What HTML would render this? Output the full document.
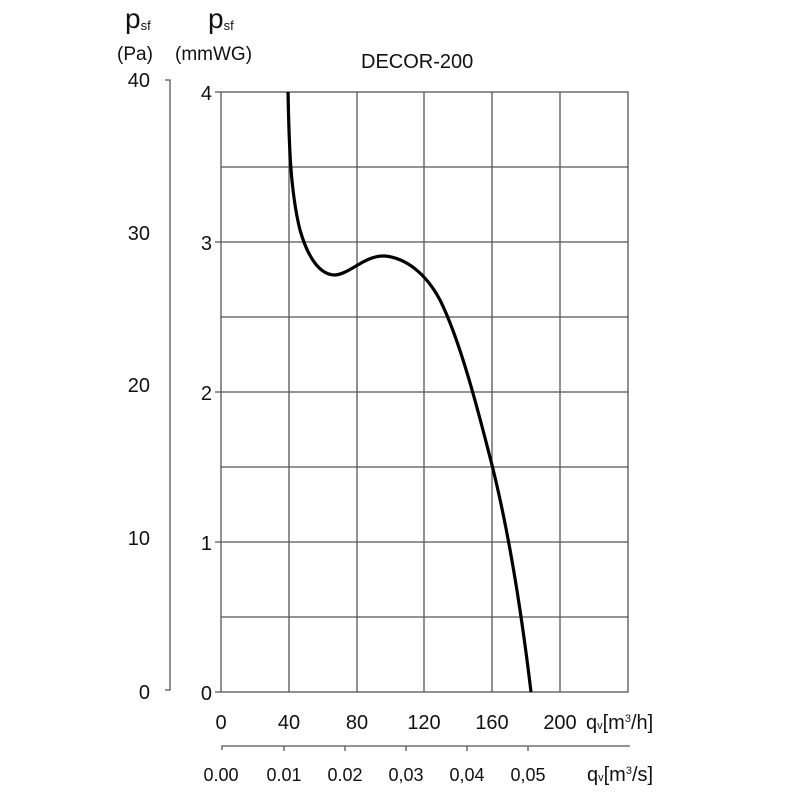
<!DOCTYPE html>
<html><head><meta charset="utf-8"><style>
body{margin:0;background:#fff;}
svg text{font-family:"Liberation Sans",sans-serif;fill:#111;}
</style></head><body>
<svg width="800" height="800" viewBox="0 0 800 800" xmlns="http://www.w3.org/2000/svg">
<g stroke="#555" stroke-width="1.3" fill="none">
<rect x="221" y="92" width="407" height="600"/>
<path d="M289 92V692M357 92V692M424 92V692M492 92V692M560 92V692"/>
<path d="M221 167H628M221 242H628M221 317H628M221 392H628M221 467H628M221 542H628M221 617H628"/>
<path d="M215 92H221M215 242H221M215 392H221M215 542H221M215 692H221"/>
<path d="M165 80H170V690H165"/>
<path d="M222 750V746H630"/>
<path d="M284 746V751M345 746V751M406 746V751M467 746V751M528 746V751"/>
</g>
<path d="M288 92 C289 140 290 190 300 230 C308 258 320 275 335 275 C350 274 365 255 385 256 C405 258 425 272 440 300 C460 340 478 410 492 465 C507 525 520 600 531 692" stroke="#000" stroke-width="3.2" fill="none"/>
<g font-size="20">
<text x="150" y="87" text-anchor="end">40</text>
<text x="150" y="240" text-anchor="end">30</text>
<text x="150" y="392" text-anchor="end">20</text>
<text x="150" y="545" text-anchor="end">10</text>
<text x="150" y="699" text-anchor="end">0</text>
<text x="212" y="100" text-anchor="end">4</text>
<text x="212" y="250" text-anchor="end">3</text>
<text x="212" y="400" text-anchor="end">2</text>
<text x="212" y="550" text-anchor="end">1</text>
<text x="212" y="700" text-anchor="end">0</text>
<text x="221" y="729" text-anchor="middle">0</text>
<text x="289" y="729" text-anchor="middle">40</text>
<text x="357" y="729" text-anchor="middle">80</text>
<text x="424" y="729" text-anchor="middle">120</text>
<text x="492" y="729" text-anchor="middle">160</text>
<text x="560" y="729" text-anchor="middle">200</text>
<text x="586" y="729">q<tspan font-size="11">v</tspan>[m<tspan font-size="11" dy="-7">3</tspan><tspan dy="7">/h]</tspan></text>
<text x="361" y="68">DECOR-200</text>
<text x="125" y="28" font-size="28">p<tspan font-size="13" dy="2">sf</tspan></text>
<text x="208" y="28" font-size="28">p<tspan font-size="13" dy="2">sf</tspan></text>
<text x="117" y="60" font-size="19">(Pa)</text>
<text x="175" y="60" font-size="19">(mmWG)</text>
</g>
<g font-size="18">
<text x="221" y="781" text-anchor="middle">0.00</text>
<text x="284" y="781" text-anchor="middle">0.01</text>
<text x="345" y="781" text-anchor="middle">0.02</text>
<text x="406" y="781" text-anchor="middle">0,03</text>
<text x="467" y="781" text-anchor="middle">0,04</text>
<text x="528" y="781" text-anchor="middle">0,05</text>
<text x="587" y="781" font-size="20">q<tspan font-size="11">v</tspan>[m<tspan font-size="11" dy="-7">3</tspan><tspan dy="7">/s]</tspan></text>
</g>
</svg>
</body></html>
